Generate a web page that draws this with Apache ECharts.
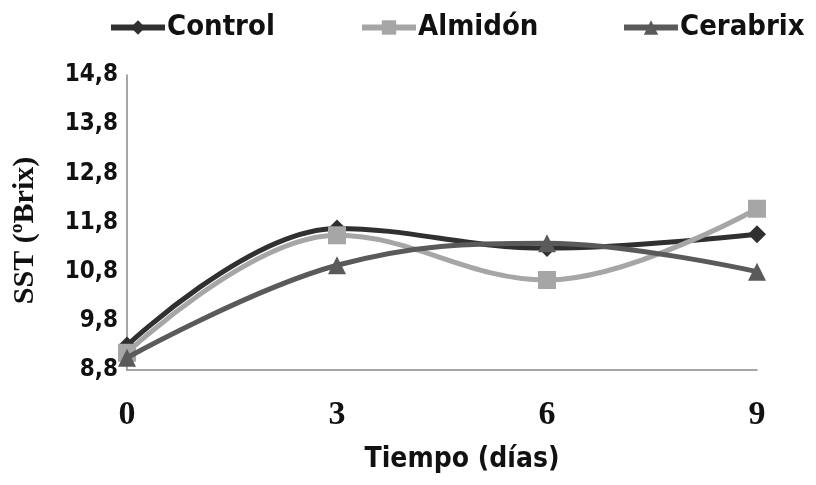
<!DOCTYPE html>
<html><head><meta charset="utf-8">
<script src="https://cdn.jsdelivr.net/npm/echarts@6/dist/echarts.min.js"></script>
<style>html,body{margin:0;padding:0;background:#fff}#c{width:816px;height:485px}</style>
</head><body><div id="c"></div>
<script>
const categories = ['0', '3', '6', '9'];
const control = [9.3, 11.68, 11.28, 11.56];
const almidon = [9.15, 11.54, 10.63, 12.08];
const cerabrix = [9.05, 10.93, 11.38, 10.8];
const seriesNames = ['Control', 'Almidón', 'Cerabrix'];
const yMin = 8.8, yMax = 14.8, yStep = 1;

const COND = '"DejaVu Sans Condensed", "DejaVu Sans", sans-serif';
const SERIF = '"Liberation Serif", "DejaVu Serif", serif';
const colors = ['#303030', '#a6a6a6', '#5a5a5a'];
const symbols = ['diamond', 'rect', 'triangle'];
const data = [control, almidon, cerabrix];
const legendLeft = [103, 354, 616];

const chart = echarts.init(document.getElementById('c'));
chart.setOption({
  animation: false,
  backgroundColor: '#fff',
  color: colors,
  legend: seriesNames.map((n, i) => ({
    top: 8, left: legendLeft[i],
    itemWidth: 54, itemHeight: 18, itemGap: 10,
    lineStyle: {width: 6},
    textStyle: {fontFamily: COND, fontSize: 29, fontWeight: 'bold', color: '#111', padding: [0, 0, 0, -3]},
    data: [n]
  })),
  grid: {left: 127, right: 59, top: 75, bottom: 115},
  xAxis: {
    type: 'category', data: categories, boundaryGap: false,
    name: 'Tiempo (días)', nameLocation: 'middle', nameGap: 76,
    nameTextStyle: {fontFamily: COND, fontSize: 28, fontWeight: 'bold', color: '#111', padding: [0, 0, 0, 40]},
    axisLine: {lineStyle: {color: '#8a8a8a', width: 1.5}},
    axisTick: {show: false},
    axisLabel: {fontFamily: SERIF, fontSize: 34, fontWeight: 'bold', color: '#111', margin: 28}
  },
  yAxis: {
    type: 'value', min: yMin, max: yMax, interval: yStep,
    name: 'SST (ºBrix)', nameLocation: 'middle', nameGap: 87,
    nameTextStyle: {fontFamily: SERIF, fontSize: 30, fontWeight: 'bold', color: '#111', padding: [0, 16, 0, 0]},
    axisLine: {show: true, lineStyle: {color: '#8a8a8a', width: 1.5}},
    axisTick: {show: false},
    splitLine: {show: false},
    axisLabel: {fontFamily: COND, fontSize: 24, fontWeight: 'bold', color: '#111', margin: 9,
      formatter: v => v.toFixed(1).replace('.', ',')}
  },
  series: seriesNames.map((n, i) => ({
    name: n, type: 'line', data: data[i], smooth: 0.38,
    symbol: symbols[i], symbolSize: 18,
    lineStyle: {width: 5, color: colors[i]},
    itemStyle: {color: colors[i]},
    z: 2 + i
  }))
});
</script></body></html>
